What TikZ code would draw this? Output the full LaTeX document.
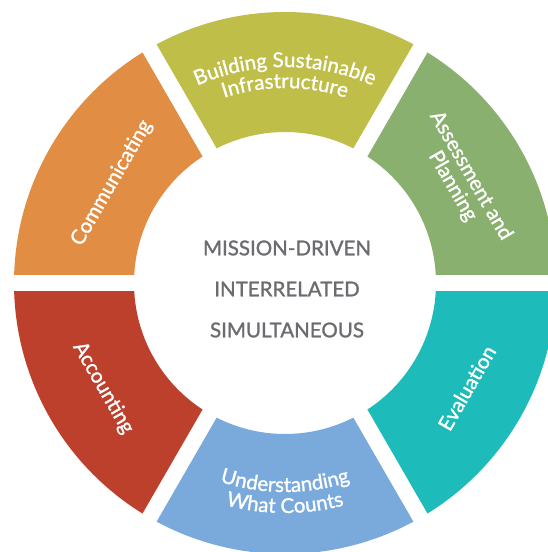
\documentclass[tikz,border=0pt]{standalone}
\usepackage{fontspec}
\setsansfont{Lato}
\newfontfamily\ringfamily[FakeBold=1.2]{Lato}
\usetikzlibrary{decorations.text}

\definecolor{segOlive}{RGB}{190,190,72}
\definecolor{segGreen}{RGB}{138,176,112}
\definecolor{segTeal}{RGB}{30,187,187}
\definecolor{segBlue}{RGB}{122,170,220}
\definecolor{segRed}{RGB}{189,64,45}
\definecolor{segOrange}{RGB}{225,142,68}
\definecolor{coreGray}{RGB}{108,108,112}

\newcommand\segfont{\ringfamily\fontsize{20.5}{21}\selectfont}

\begin{document}
\begin{tikzpicture}[x=1pt,y=1pt,
  gap/.style={white,line width=16},
  segtext/.style={text=white,font=\segfont,align=center},
  arctext/.style={decorate,decoration={text along path,text align=center,text color=white}},
  core/.style={text=coreGray,font=\ringfamily\fontsize{20.5}{41}\selectfont,align=center}]
  % canvas
  \fill[white] (-285,-269) rectangle (263,283);
  \useasboundingbox (-285,-269) rectangle (263,283);

  % ring segments
  \foreach \a/\col in {0/segGreen,60/segOlive,120/segOrange,180/segRed,240/segBlue,300/segTeal}
    \fill[\col] (\a:151) arc[start angle=\a,delta angle=60,radius=151]
      -- ({\a+60}:271) arc[start angle=\a+60,delta angle=-60,radius=271] -- cycle;

  % white gaps between segments
  \foreach \a in {0,60,120}
    \draw[gap] (\a:280) -- ({\a+180}:280);

  % curved labels, top and bottom
  \path[arctext,decoration={text={|\segfont|Building Sustainable}}]
    (125:216) arc[start angle=125,end angle=55,radius=216];
  \path[arctext,decoration={text={|\segfont|Infrastructure}}]
    (125:195) arc[start angle=125,end angle=55,radius=195];
  \path[arctext,decoration={text={|\segfont|Understanding}}]
    (235:209) arc[start angle=235,end angle=305,radius=209];
  \path[arctext,decoration={text={|\segfont|What Counts}}]
    (235:230) arc[start angle=235,end angle=305,radius=230];

  % straight labels on the sides
  \node[segtext,rotate=60] (comm) at (150:200) {Communicating};
  \node[segtext,rotate=-60] (plan) at (30:204) {Assessment and\\Planning};
  \node[segtext,rotate=-60] (acct) at (210:210) {Accounting};
  \node[segtext,rotate=60] (eval) at (-30:210) {Evaluation};

  \node[core] (mission) at (2,-6) {MISSION-DRIVEN\\INTERRELATED\\SIMULTANEOUS};
\end{tikzpicture}
\end{document}
